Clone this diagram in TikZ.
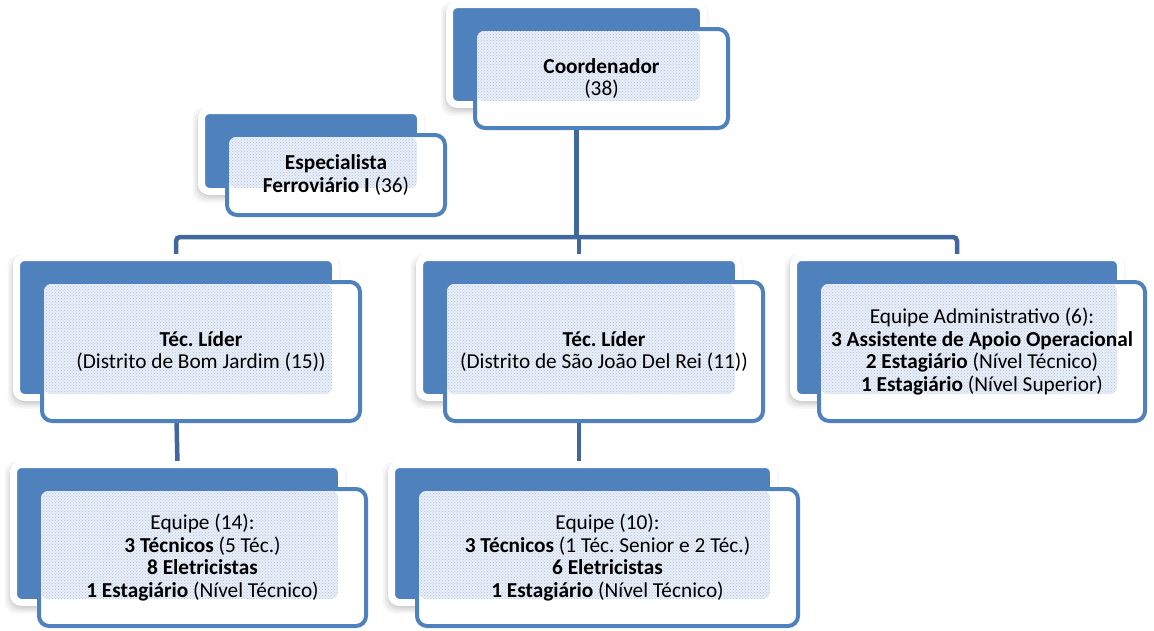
\documentclass[tikz,border=0pt]{standalone}
\usepackage{fontspec}
\setmainfont{Carlito}
\usetikzlibrary{patterns}
\definecolor{boxblue}{HTML}{4F81BD}
\definecolor{linkblue}{HTML}{41689C}
\definecolor{dotblue}{HTML}{AFC3E1}
\definecolor{tint}{HTML}{E9EEF7}
\pgfdeclarelayer{background}
\pgfdeclarelayer{canvas}
\pgfsetlayers{canvas,background,main}
\frenchspacing

\tikzset{
  backbox/.style={draw=white, line width=7pt, fill=boxblue, rounded corners=8pt,
    inner sep=0pt, outer sep=0pt},
  softshade/.style={fill=black, opacity=#1, rounded corners=12pt},
  frontbox/.style={draw=boxblue, line width=4pt, fill=white, rounded corners=10pt,
    inner sep=0pt, outer sep=0pt},
  texture/.style={preaction={fill=tint}, pattern=crosshatch dots,
    pattern color=dotblue, rounded corners=7pt},
  label/.style={align=center, inner sep=0pt, font=\fontsize{21.3}{22.8}\selectfont},
  link/.style={draw=linkblue, line width=4.5pt, rounded corners=4pt},
}

% \orgunit{name}{x1}{y1}{x2}{y2}{text}: corners of the front card;
% the blue card behind it sits up and to the left, with a soft shadow.
\newcommand\orgunit[6]{%
  \foreach \s/\o in {7/0.035,5/0.045,3/0.06,1/0.07}{%
    \fill[softshade=\o] ({#2-23.5-\s-2},{#3-22.5-\s+4}) rectangle ({#4-26.5+\s-2},{#5-25.5+\s+4});
  }%
  \pgfmathsetmacro\bw{#4-#2-10+7}%
  \pgfmathsetmacro\bh{#5-#3-10+7}%
  \pgfmathsetmacro\bx{(#2-20+#4-30)/2}%
  \pgfmathsetmacro\by{(#3-19+#5-29)/2}%
  \node[backbox, minimum width=\bw pt, minimum height=\bh pt] (#1B) at (\bx,\by) {};
  \pgfmathsetmacro\fw{#4-#2-4}%
  \pgfmathsetmacro\fh{#5-#3-4}%
  \node[frontbox, minimum width=\fw pt, minimum height=\fh pt] (#1) at ({(#2+#4)/2},{(#3+#5)/2}) {};
  \path[texture] ({#2+4},{#3+4}) rectangle ({#4-30},{#5-29});
  \node[label] (#1T) at (#1.center) {#6};
}

\begin{document}
\begin{tikzpicture}[x=1pt,y=-1pt]
\begin{pgfonlayer}{canvas}
  \fill[white] (0,0) rectangle (1154,630);
\end{pgfonlayer}
\useasboundingbox (0,0) rectangle (1154,630);

\orgunit{coord}{473}{27}{730}{130}{\textbf{Coordenador}\\(38)}
\orgunit{spec}{225}{133}{447}{217}{\textbf{Especialista}\\\textbf{Ferroviário I} (36)}
\orgunit{liderA}{40}{280}{362}{423}{\textbf{Téc. Líder}\\(Distrito de Bom Jardim (15))}
\orgunit{liderB}{443}{280}{765}{423}{\textbf{Téc. Líder}\\(Distrito de São João Del Rei (11))}
\orgunit{admin}{817}{280}{1147}{423}{Equipe Administrativo (6):\\\textbf{3 Assistente de Apoio Operacional}\\\textbf{2 Estagiário} (Nível Técnico)\\\textbf{1 Estagiário} (Nível Superior)}
\orgunit{eqA}{37}{487}{368}{628}{Equipe (14):\\\textbf{3 Técnicos} (5 Téc.)\\\textbf{8 Eletricistas}\\\textbf{1 Estagiário} (Nível Técnico)}
\orgunit{eqB}{415}{487}{800}{628}{Equipe (10):\\\textbf{3 Técnicos} (1 Téc. Senior e 2 Téc.)\\\textbf{6 Eletricistas}\\\textbf{1 Estagiário} (Nível Técnico)}

% connectors run underneath the cards
\coordinate (bus) at (0,237);
\begin{pgfonlayer}{background}
  \draw[link] (coordB.south) -- (coordB.south |- bus);
  \draw[link] (liderAB.north) |- (bus -| adminB.north) -- (adminB.north);
  \draw[link] (bus -| liderBB.north) -- (liderBB.north);
  \draw[link] (liderAB.south) -- (eqAB.north);
  \draw[link] (liderBB.south) -- (liderBB.south |- eqBB.north);
\end{pgfonlayer}
\end{tikzpicture}
\end{document}
